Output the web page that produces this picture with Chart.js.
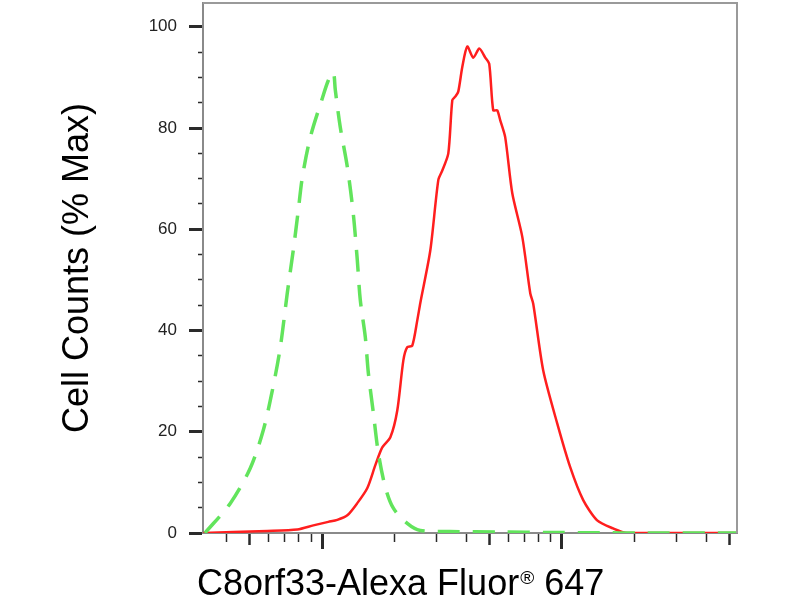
<!DOCTYPE html>
<html>
<head>
<meta charset="utf-8">
<title>C8orf33 flow histogram</title>
<script src="https://cdn.jsdelivr.net/npm/chart.js@4/dist/chart.umd.min.js"></script>
<style>
  html, body { margin: 0; padding: 0; background: #fff; }
  #wrap { width: 800px; height: 600px; position: relative; }
</style>
</head>
<body>
<div id="wrap"><canvas id="histChart"></canvas></div>
<script>
// =====================================================
//  Flow cytometry overlay — isotype vs C8orf33 stain
// =====================================================

// fluorescence intensity (log axis) and % max counts
const isotypeX = [325, 415, 502, 569, 621, 670, 716, 759, 796, 828, 894, 1003, 1062, 1114, 1136, 1191, 1275, 1349, 1403, 1444, 1515, 1560, 1637, 1717, 1835, 1983, 2266, 2570, 3420, 5530, 8930, 14450, 21200, 53700];
const isotypeY = [0, 5.9, 12.8, 20.3, 28.2, 36.7, 47.3, 55.9, 63.7, 70.3, 78.2, 85.9, 89.4, 91.0, 87.5, 80.2, 72.3, 63.2, 53.9, 46.0, 38.7, 31.6, 23.7, 15.8, 9.1, 4.9, 1.9, 0.5, 0.3, 0.2, 0.1, 0.05, 0, 0];

const stainX = [320, 427, 591, 789, 920, 1062, 1158, 1275, 1403, 1545, 1668, 1783, 1927, 2059, 2183, 2266, 2377, 2495, 2570, 2827, 3053, 3172, 3361, 3493, 3592, 3698, 3845, 4032, 4270, 4524, 4791, 4977, 5172, 5373, 5534, 5802, 6211, 6837, 7384, 7594, 8359, 9553, 10830, 12270, 14030, 16360, 18720, 53700];
const stainY = [0, 0.2, 0.4, 0.7, 1.5, 2.2, 2.6, 3.5, 5.9, 8.9, 13.4, 16.9, 18.9, 24.2, 34.1, 36.7, 37.0, 42.0, 45.5, 55.8, 69.7, 71.6, 75.0, 85.5, 86.2, 87.2, 92.1, 96.1, 93.9, 95.7, 93.9, 92.7, 83.5, 83.5, 81.5, 78.2, 67.1, 58.5, 47.3, 45.3, 32.1, 21.7, 13.0, 6.5, 2.5, 0.9, 0, 0];

// axis ticks
const xTickValues = [400, 500, 600, 700, 800, 900, 1000, 2000, 3000, 4000, 5000, 6000, 7000, 8000, 9000, 10000, 20000, 30000, 40000, 50000];
const xMajorTicks = [1000, 10000];
const xMidTicks = [500, 5000, 50000];
const yTickValues = [0, 5, 10, 15, 20, 25, 30, 35, 40, 45, 50, 55, 60, 65, 70, 75, 80, 85, 90, 95, 100];
const yTickLabels = [0, 20, 40, 60, 80, 100];

// x title is split so the ® can sit small and raised
const xTitleParts = ['C8orf33-Alexa Fluor', '®', ' 647'];
const yTitle = 'Cell Counts (% Max)';

const FONT = '"Liberation Sans", Arial, Helvetica, sans-serif';

function toPoints(xs, ys) {
  return xs.map((x, i) => ({ x, y: ys[i] }));
}

// top + right edges of the plot box
const framePlugin = {
  id: 'frame',
  afterDraw(chart) {
    const { ctx, chartArea: a } = chart;
    ctx.save();
    ctx.strokeStyle = '#9a9a9a';
    ctx.lineWidth = 2;
    ctx.beginPath();
    ctx.moveTo(a.left, a.top);
    ctx.lineTo(a.right, a.top);
    ctx.lineTo(a.right, a.bottom);
    ctx.stroke();
    ctx.restore();
  }
};

// x axis title with superscript registered mark
const xTitlePlugin = {
  id: 'xTitle',
  afterDraw(chart) {
    const { ctx } = chart;
    const sx = chart.scales.x;
    const base = sx.bottom - 5;
    let x = sx.left - 6;
    ctx.save();
    ctx.fillStyle = '#000';
    ctx.textBaseline = 'alphabetic';
    ctx.textAlign = 'left';
    ctx.font = `36px ${FONT}`;
    ctx.fillText(xTitleParts[0], x, base);
    x += ctx.measureText(xTitleParts[0]).width + 1;
    ctx.font = `19px ${FONT}`;
    ctx.fillText(xTitleParts[1], x, base - 11);
    x += ctx.measureText(xTitleParts[1]).width;
    ctx.font = `36px ${FONT}`;
    ctx.fillText(xTitleParts[2], x, base);
    ctx.restore();
  }
};

new Chart(document.getElementById('histChart'), {
  type: 'line',
  data: {
    datasets: [
      { label: 'Isotype', data: toPoints(isotypeX, isotypeY), borderColor: '#62e45c', borderWidth: 3.5, borderDash: [22, 13], pointRadius: 0, tension: 0.3, fill: false },
      { label: 'C8orf33', data: toPoints(stainX, stainY), borderColor: '#ff1e1e', borderWidth: 2.5, pointRadius: 0, tension: 0.25, fill: false }
    ]
  },
  options: {
    responsive: true, maintainAspectRatio: false, animation: false,
    layout: { padding: { left: 0, right: 63, top: 3, bottom: 0 } },
    plugins: { legend: { display: false }, tooltip: { enabled: false } },
    scales: {
      x: {
        type: 'logarithmic', min: 319, max: 53700,
        afterBuildTicks: s => { s.ticks = xTickValues.map(v => ({ value: v })); },
        afterFit: s => { s.height = 67; s.paddingLeft = 0; s.paddingRight = 0; },
        ticks: { display: false },
        grid: {
          drawOnChartArea: false, drawTicks: true, tickLength: 16,
          tickColor: '#2a2a2a',
          tickWidth: c => xMajorTicks.includes(c.tick.value) ? 3 : xMidTicks.includes(c.tick.value) ? 2.5 : 1.5,
          tickBorderDash: c => xMajorTicks.includes(c.tick.value) ? [] : xMidTicks.includes(c.tick.value) ? [11, 40] : [8, 40]
        },
        border: { display: true, color: '#8a8a8a', width: 2 },
        title: { display: false }
      },
      y: {
        type: 'linear', min: 0, max: 104.7,
        afterBuildTicks: s => { s.ticks = yTickValues.map(v => ({ value: v })); },
        afterFit: s => { s.width = 203; s.paddingTop = 0; s.paddingBottom = 0; },
        ticks: {
          autoSkip: false, padding: 12, color: '#222', font: { family: FONT, size: 17 },
          callback: v => yTickLabels.includes(v) ? String(v) : ''
        },
        grid: {
          drawOnChartArea: false, drawTicks: true, tickLength: 14,
          tickColor: '#2a2a2a',
          tickWidth: c => yTickLabels.includes(c.tick.value) ? 3 : 1.5,
          tickBorderDash: c => yTickLabels.includes(c.tick.value) ? [] : [0, 9, 5, 40]
        },
        border: { display: true, color: '#8a8a8a', width: 2 },
        title: { display: true, text: yTitle, color: '#000', font: { family: FONT, size: 36, lineHeight: 1 }, padding: { top: 60, bottom: 10 } }
      }
    }
  },
  plugins: [framePlugin, xTitlePlugin]
});
</script>
</body>
</html>
